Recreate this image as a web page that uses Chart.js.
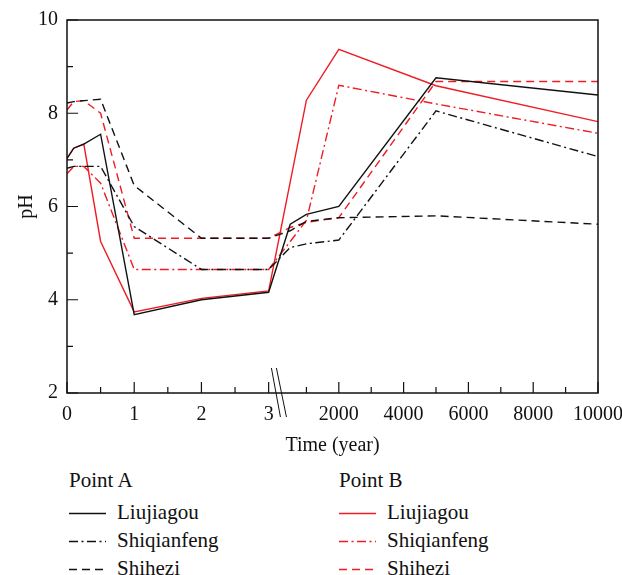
<!DOCTYPE html>
<html>
<head>
<meta charset="utf-8">
<script src="https://cdn.jsdelivr.net/npm/chart.js@4.4.1/dist/chart.umd.min.js"></script>
<style>
  body { margin: 0; background: #fff; }
  #wrap { position: relative; width: 622px; height: 575px; font-family: 'Liberation Serif', 'DejaVu Serif', serif; color: #111; }
  #c { position: absolute; left: 0; top: 0; }
  .lg { position: absolute; font-size: 21px; line-height: 20px; white-space: nowrap; }
  .lg svg { position: absolute; }
</style>
</head>
<body>
<div id="wrap">
  <canvas id="c" width="622" height="460"></canvas>
  <div id="legend"></div>
</div>
<script>
// DATA
const years = [0, 0.1, 0.25, 0.5, 1, 2, 3, 500, 1000, 2000, 5000, 10000];

const phA_liujiagou   = [7.03, 7.25, 7.34, 7.55, 3.68, 4.00, 4.16, 5.62, 5.83, 6.00, 8.76, 8.39];
const phA_shiqianfeng = [6.82, 6.86, 6.86, 6.86, 5.57, 4.65, 4.65, 5.12, 5.20, 5.28, 8.05, 7.07];
const phA_shihezi     = [8.22, 8.25, 8.27, 8.30, 6.45, 5.32, 5.32, 5.48, 5.68, 5.76, 5.80, 5.62];

const phB_liujiagou   = [7.03, 7.25, 7.34, 5.25, 3.74, 4.03, 4.19, null, 8.28, 9.37, 8.59, 7.82];
const phB_shiqianfeng = [6.70, 6.86, 6.86, 6.50, 4.65, 4.65, 4.65, 5.25, 5.70, 8.60, 8.20, 7.57];
const phB_shihezi     = [8.07, 8.25, 8.27, 8.00, 5.32, 5.32, 5.32, 5.55, 5.66, 5.76, 8.68, 8.68];

const xMajorYears = [0, 1, 2, 3, 2000, 4000, 6000, 8000, 10000];
const xMinorYears = [0.5, 1.5, 2.5, 1000, 3000, 5000, 7000, 9000];
const yMajor = [2, 4, 6, 8, 10];
const yMinor = [3, 5, 7, 9];

const siteNames = ['Liujiagou', 'Shiqianfeng', 'Shihezi'];

// broken time axis: 0-3 years, then 0-10000 years on a compressed segment
function disp(t) {
  return t <= 3 ? t : 3.08 + t * 0.000482;
}
const BREAK_AT = 3.15;

const BLACK = '#111111', RED = '#ee1d23';
const DASHES = [[], [9, 3.5, 2, 3.5], [8, 5]];
const FONT = "'Liberation Serif', 'DejaVu Serif', serif";

function mkSet(label, vals, color, dash) {
  return {
    label: label,
    data: years.map((t, i) => ({ x: disp(t), y: vals[i] })),
    borderColor: color,
    borderWidth: 1.4,
    borderDash: dash,
    pointRadius: 0,
    tension: 0,
    spanGaps: true,
    fill: false
  };
}

const datasets = [
  mkSet('A Liujiagou', phA_liujiagou, BLACK, DASHES[0]),
  mkSet('A Shiqianfeng', phA_shiqianfeng, BLACK, DASHES[1]),
  mkSet('A Shihezi', phA_shihezi, BLACK, DASHES[2]),
  mkSet('B Liujiagou', phB_liujiagou, RED, DASHES[0]),
  mkSet('B Shiqianfeng', phB_shiqianfeng, RED, DASHES[1]),
  mkSet('B Shihezi', phB_shihezi, RED, DASHES[2])
];

// frame, inward ticks, axis break and titles
const frame = {
  id: 'frame',
  afterDraw(chart) {
    const { ctx, chartArea: a, scales: { x, y } } = chart;
    ctx.save();
    ctx.strokeStyle = '#111';
    ctx.lineWidth = 1.5;
    ctx.strokeRect(a.left, a.top, a.right - a.left, a.bottom - a.top);

    ctx.lineWidth = 1.2;
    ctx.beginPath();
    xMajorYears.forEach(t => { const p = x.getPixelForValue(disp(t)); ctx.moveTo(p, a.bottom); ctx.lineTo(p, a.bottom - 11); });
    xMinorYears.forEach(t => { const p = x.getPixelForValue(disp(t)); ctx.moveTo(p, a.bottom); ctx.lineTo(p, a.bottom - 6); });
    yMajor.forEach(v => { const p = y.getPixelForValue(v); ctx.moveTo(a.left, p); ctx.lineTo(a.left + 11, p); });
    yMinor.forEach(v => { const p = y.getPixelForValue(v); ctx.moveTo(a.left, p); ctx.lineTo(a.left + 6, p); });
    ctx.stroke();

    // break marks
    const bx = x.getPixelForValue(BREAK_AT);
    ctx.lineWidth = 1;
    ctx.beginPath();
    ctx.moveTo(bx - 7.3, a.bottom - 25); ctx.lineTo(bx + 1.7, a.bottom + 24);
    ctx.moveTo(bx - 2.3, a.bottom - 25); ctx.lineTo(bx + 7.7, a.bottom + 24);
    ctx.stroke();

    ctx.fillStyle = '#111';
    ctx.font = '20px ' + FONT;
    ctx.textAlign = 'center';
    ctx.textBaseline = 'middle';
    ctx.fillText('Time (year)', (a.left + a.right) / 2, a.bottom + 53);
    ctx.translate(27, (a.top + a.bottom) / 2);
    ctx.rotate(-Math.PI / 2);
    ctx.fillText('pH', 0, 0);
    ctx.restore();
  }
};

new Chart(document.getElementById('c'), {
  type: 'line',
  data: { datasets: datasets },
  options: {
    responsive: false,
    animation: false,
    layout: { padding: { top: 20, right: 24, left: 0, bottom: 0 } },
    plugins: { legend: { display: false }, tooltip: { enabled: false } },
    scales: {
      x: {
        type: 'linear',
        min: 0,
        max: disp(10000),
        grid: { display: false, drawTicks: false },
        border: { display: false },
        ticks: {
          autoSkip: false, maxRotation: 0, padding: 10,
          color: '#111', font: { family: FONT, size: 20 },
          callback: (v, i) => String(xMajorYears[i])
        },
        afterBuildTicks: s => { s.ticks = xMajorYears.map(t => ({ value: disp(t) })); },
        afterFit: s => { s.height = 67; s.paddingLeft = 0; s.paddingRight = 0; }
      },
      y: {
        min: 2,
        max: 10,
        grid: { display: false, drawTicks: false },
        border: { display: false },
        ticks: {
          padding: 9, color: '#111', font: { family: FONT, size: 20 }
        },
        afterBuildTicks: s => { s.ticks = yMajor.map(v => ({ value: v })); },
        afterFit: s => { s.width = 67; s.paddingTop = 0; s.paddingBottom = 0; }
      }
    }
  },
  plugins: [frame]
});

// LEGEND
const legend = document.getElementById('legend');
const groups = [
  { title: 'Point A', color: BLACK, x: 69 },
  { title: 'Point B', color: RED, x: 339 }
];
const rowY = [512, 540, 568];
groups.forEach(g => {
  const h = document.createElement('div');
  h.className = 'lg';
  h.style.left = g.x + 'px';
  h.style.top = (480 - 10) + 'px';
  h.textContent = g.title;
  legend.appendChild(h);
  siteNames.forEach((name, i) => {
    const row = document.createElement('div');
    row.className = 'lg';
    row.style.left = g.x + 'px';
    row.style.top = (rowY[i] - 10) + 'px';
    row.innerHTML =
      '<svg width="37" height="20" style="left:0;top:0"><line x1="0" y1="11.5" x2="37" y2="11.5" stroke="' + g.color +
      '" stroke-width="1.4" stroke-dasharray="' + (DASHES[i].join(' ') || 'none') + '"/></svg>' +
      '<span style="position:absolute;left:48px;top:0">' + name + '</span>';
    legend.appendChild(row);
  });
});
</script>
</body>
</html>
